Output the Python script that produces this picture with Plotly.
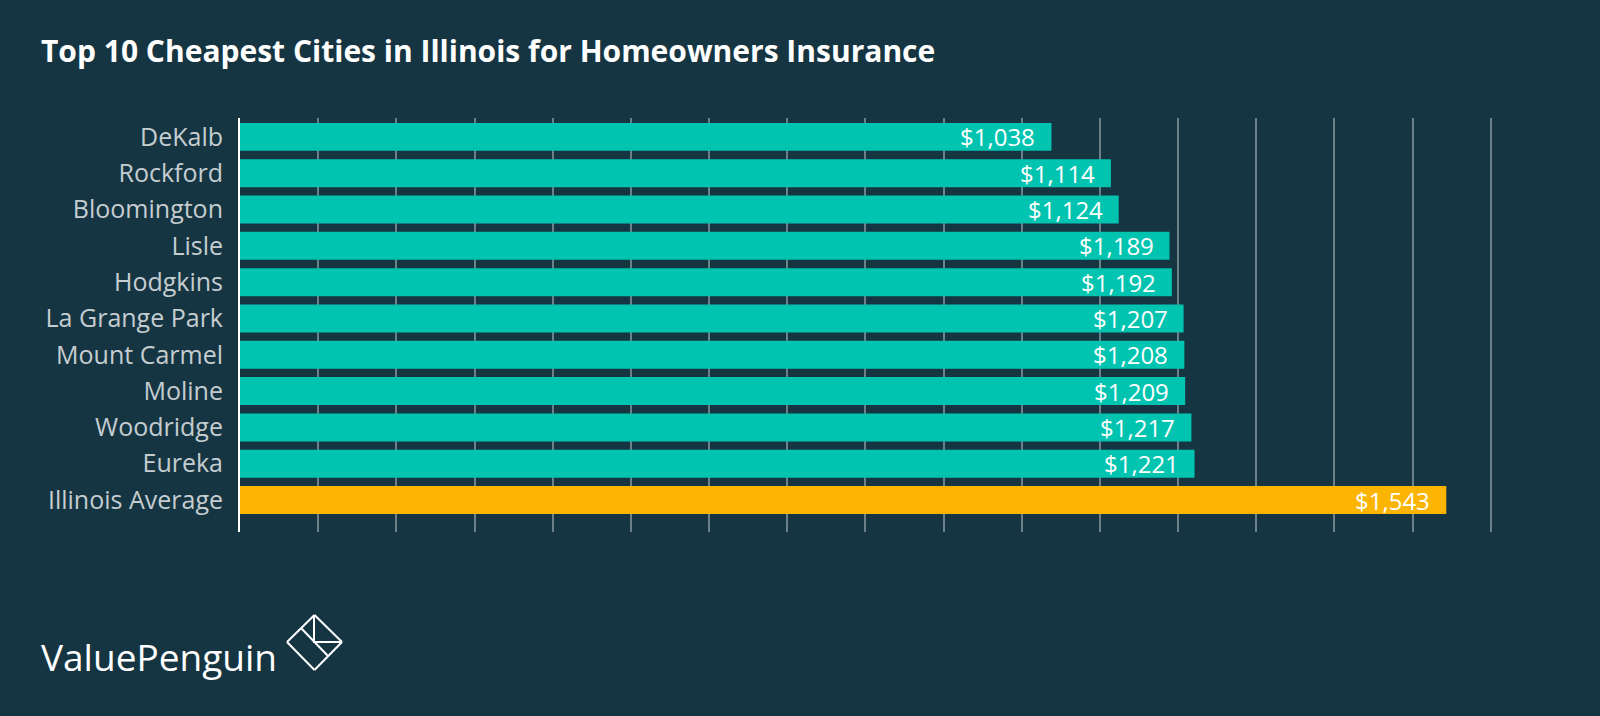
import plotly.graph_objects as go

cities = ["DeKalb", "Rockford", "Bloomington", "Lisle", "Hodgkins", "La Grange Park",
          "Mount Carmel", "Moline", "Woodridge", "Eureka", "Illinois Average"]
premiums = [1038, 1114, 1124, 1189, 1192, 1207, 1208, 1209, 1217, 1221, 1543]
bar_colors = ["#00c4b0"] * 10 + ["#fbb400"]

BG = "#163542"
FONT = "Open Sans"

L, R, T, B = 240, 108, 118, 184
PW, PH = 1600 - L - R, 716 - T - B

fig = go.Figure()
fig.add_trace(go.Bar(
    x=premiums, y=cities, orientation="h",
    marker=dict(color=bar_colors, line=dict(width=0)),
    hoverinfo="skip",
))

for c, v in zip(cities, premiums):
    fig.add_annotation(x=v, y=c, xref="x", yref="y", text=f"${v:,}",
                       showarrow=False, xanchor="right", xshift=-14,
                       font=dict(family=FONT, size=24, color="white"))

fig.update_layout(
    width=1600, height=716,
    paper_bgcolor=BG, plot_bgcolor=BG,
    margin=dict(l=L, r=R, t=T, b=B),
    bargap=0.23,
    showlegend=False,
    xaxis=dict(range=[0, 1601.5], dtick=100, tick0=0, showgrid=True,
               gridcolor="#6c8089", gridwidth=1.5, showticklabels=False,
               zeroline=False, showline=False, fixedrange=True),
    yaxis=dict(categoryorder="array", categoryarray=cities,
               range=[10.88, -0.52], showgrid=False,
               showline=True, linecolor="white", linewidth=2,
               ticks="", ticklabelstandoff=10,
               tickfont=dict(family=FONT, size=25, color="#c5cdd1")),
)

def px(x, y):
    return ((x - L) / PW, (716 - y - B) / PH)

tx, ty = px(39, 51)
fig.add_annotation(xref="paper", yref="paper", x=tx, y=ty,
                   xanchor="left", yanchor="middle", showarrow=False,
                   text="<b>Top 10 Cheapest Cities in Illinois for Homeowners Insurance</b>",
                   font=dict(family=FONT, size=30, color="white"))

lx, ly = px(39, 656)
fig.add_annotation(xref="paper", yref="paper", x=lx, y=ly,
                   xanchor="left", yanchor="middle", showarrow=False,
                   text="ValuePenguin",
                   font=dict(family=FONT, size=37, color="white"))

segs = [((314.5, 615), (342, 642)), ((342, 642), (314.5, 670)), ((314.5, 670), (287, 642)),
        ((287, 642), (314.5, 615)), ((314, 615), (314, 643)), ((314, 642), (342, 642)),
        ((301, 628), (328, 656))]
for a, b in segs:
    x0, y0 = px(*a)
    x1, y1 = px(*b)
    fig.add_shape(type="line", xref="paper", yref="paper", x0=x0, y0=y0, x1=x1, y1=y1,
                  line=dict(color="white", width=2))

fig.write_html("out.html", config={"displayModeBar": False},
               post_script="document.body.style.margin='0';document.body.style.overflow='hidden';")
